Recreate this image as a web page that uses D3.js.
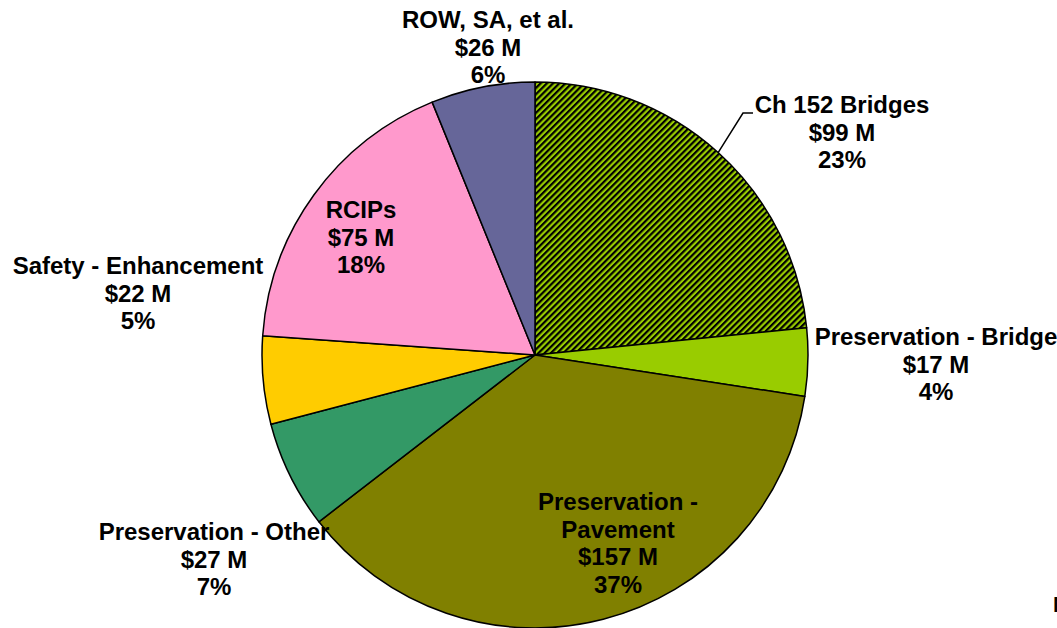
<!DOCTYPE html>
<html>
<head>
<meta charset="utf-8">
<script src="https://cdn.jsdelivr.net/npm/d3@7"></script>
<style>
  body { margin: 0; background: #fff; }
  svg { display: block; }
  text { font-family: "Liberation Sans", Arial, sans-serif; font-weight: bold; }
</style>
</head>
<body>
<svg id="chart"></svg>
<script>
// ---------------- data ----------------
const categories = ["Ch 152 Bridges", "Preservation - Bridge", "Preservation - Pavement",
  "Preservation - Other", "Safety - Enhancement", "RCIPs", "ROW, SA, et al."];
const amounts = [99, 17, 157, 27, 22, 75, 26];          // $ M
const percents = ["23%", "4%", "37%", "7%", "5%", "18%", "6%"];
const colors = ["#99cc00", "#99cc00", "#808000", "#339966", "#ffcc00", "#ff99cc", "#666699"];

// label text lines (Pavement label wraps inside its slice)
const labelLines = [
  ["Ch 152 Bridges"], ["Preservation - Bridge"], ["Preservation -", "Pavement"],
  ["Preservation - Other"], ["Safety - Enhancement"], ["RCIPs"], ["ROW, SA, et al."]
];
// label anchor: centre x, first baseline
const labelAnchors = [[842, 113], [936, 345], [618, 510], [214, 540], [138, 274], [361, 218], [488, 28]];

const width = 1057, height = 628;
const cx = 535, cy = 355, radius = 273;
const lineH = 27.5;

const svg = d3.select("#chart").attr("width", width).attr("height", height);

// stripe pattern for Ch 152 Bridges
const defs = svg.append("defs");
const pat = defs.append("pattern")
  .attr("id", "stripes")
  .attr("patternUnits", "userSpaceOnUse")
  .attr("width", 4.4).attr("height", 4.4)
  .attr("patternTransform", "rotate(45)");
pat.append("rect").attr("width", 4.4).attr("height", 4.4).attr("fill", "#99cc00");
pat.append("rect").attr("width", 2.2).attr("height", 4.4).attr("fill", "#000");

const pie = d3.pie().sort(null).value(d => d.value);
const arcs = pie(amounts.map((v, i) => ({ value: v, i: i })));
const arc = d3.arc().innerRadius(0).outerRadius(radius);

const g = svg.append("g").attr("transform", "translate(" + cx + "," + cy + ")");

g.selectAll("path")
  .data(arcs)
  .enter()
  .append("path")
  .attr("d", arc)
  .attr("fill", d => d.data.i === 0 ? "url(#stripes)" : colors[d.data.i])
  .attr("stroke", "#000")
  .attr("stroke-width", 1.5)
  .attr("stroke-linejoin", "round");

// leader line for Ch 152 Bridges
const a0 = (arcs[0].startAngle + arcs[0].endAngle) / 2;
const p0 = [cx + radius * Math.sin(a0), cy - radius * Math.cos(a0)];
svg.append("polyline")
  .attr("points", [p0, [743, 113], [753, 113]].map(p => p.join(",")).join(" "))
  .attr("fill", "none")
  .attr("stroke", "#000")
  .attr("stroke-width", 1.5);

// labels
categories.forEach((c, i) => {
  const lines = labelLines[i].concat(["$" + amounts[i] + " M", percents[i]]);
  const t = svg.append("text")
    .attr("text-anchor", "middle")
    .attr("font-size", 24)
    .attr("fill", "#000");
  lines.forEach((l, k) => {
    t.append("tspan")
      .attr("x", labelAnchors[i][0])
      .attr("y", labelAnchors[i][1] + k * lineH)
      .text(l);
  });
});

// clipped text fragment at right edge (cut off in the original too)
svg.append("text")
  .attr("x", 1053).attr("y", 612)
  .attr("font-size", 22)
  .text("N");
</script>
</body>
</html>
